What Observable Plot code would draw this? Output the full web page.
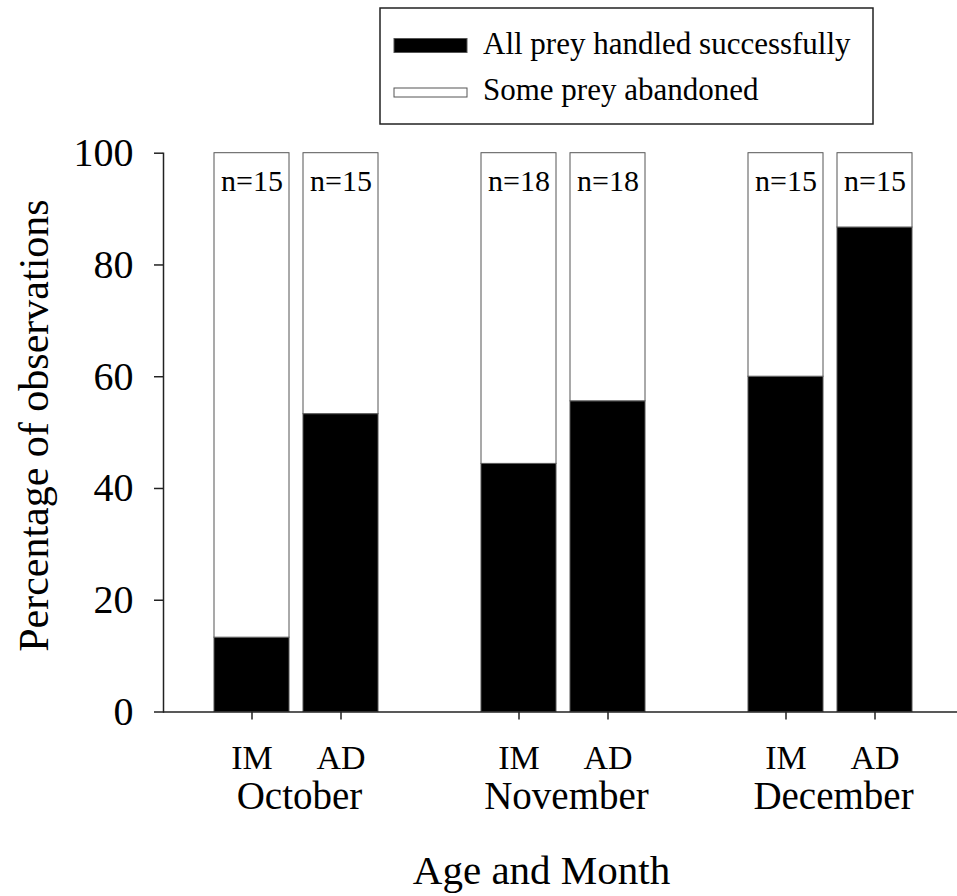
<!DOCTYPE html>
<html>
<head>
<meta charset="utf-8">
<script src="https://cdn.jsdelivr.net/npm/d3@7"></script>
<script src="https://cdn.jsdelivr.net/npm/@observablehq/plot@0.6"></script>
<style>
  html, body { margin: 0; padding: 0; background: white; }
  #wrap { position: relative; width: 957px; height: 896px; }
  #legend { position: absolute; left: 0; top: 0; }
</style>
</head>
<body>
<div id="wrap"></div>
<script>
// ---- data ----
const months = ["October", "November", "December"];
const ages = ["IM", "AD"];
const successPct = [13.3, 53.3, 44.4, 55.6, 60.0, 86.7]; // % all prey handled successfully
const sampleN = [15, 15, 18, 18, 15, 15];
const parts = ["All prey handled successfully", "Some prey abandoned"];
const partColors = ["black", "white"];
const yTicks = [0, 20, 40, 60, 80, 100];
const yLabel = "Percentage of observations";
const xLabel = "Age and Month";

const FONT = "'Liberation Serif', 'Times New Roman', serif";

const rows = months.flatMap((m, i) => ages.map((a, j) => ({
  month: m, age: a, key: m + "|" + a,
  success: successPct[i * 2 + j], n: sampleN[i * 2 + j]
})));
const keys = rows.map(d => d.key);
const domain = months.flatMap((m, i) => {
  const k = ages.map(a => m + "|" + a);
  return i < months.length - 1 ? [...k, "gap" + i] : k;
});
const long = rows.flatMap(d => [
  {key: d.key, part: parts[0], value: d.success},
  {key: d.key, part: parts[1], value: 100 - d.success}
]);
const ageOf = Object.fromEntries(rows.map(d => [d.key, d.age]));

const chart = Plot.plot({
  width: 957,
  height: 896,
  marginLeft: 163,
  marginRight: 0,
  marginTop: 152.7,
  marginBottom: 184.5,
  style: {fontFamily: FONT, fontSize: "40px", color: "black", background: "white", overflow: "visible"},
  x: {type: "band", domain, range: [163, 964], paddingInner: 0.157, paddingOuter: 0.577, align: 0.5},
  y: {domain: [0, 100]},
  color: {domain: parts, range: partColors},
  marks: [
    Plot.barY(long, {x: "key", y: "value", fill: "part", stroke: "#555", strokeWidth: 1}),
    Plot.text(rows, {x: "key", frameAnchor: "top", lineAnchor: "middle", text: d => "n=" + d.n, fontSize: 30, dy: 27.7, fill: "black"}),
    Plot.ruleY([0], {stroke: "#222", strokeWidth: 1.5}),
    Plot.frame({anchor: "left", stroke: "#222", strokeWidth: 1.5}),
    Plot.axisY({ticks: yTicks, tickSize: 9, tickPadding: 21, fontSize: 40, stroke: "#222", strokeWidth: 1.5, label: null}),
    Plot.axisX({ticks: keys, tickFormat: k => ageOf[k], tickSize: 8, tickPadding: 24.5, fontSize: 34, stroke: "#222", strokeWidth: 1.5, label: null}),
    Plot.text(months, {x: m => m + "|IM", frameAnchor: "bottom", text: d => d, dx: 47.5, dy: 68.8, lineAnchor: "top", fontSize: 39, fill: "black"}),
    Plot.text([xLabel], {frameAnchor: "bottom", text: d => d, dx: -19, dy: 142.4, lineAnchor: "top", fontSize: 41, fill: "black"}),
    Plot.text([yLabel], {frameAnchor: "left", textAnchor: "middle", lineAnchor: "middle", text: d => d, rotate: -90, dx: -129.4, dy: -7, fontSize: 42, fill: "black"})
  ]
});
document.getElementById("wrap").appendChild(chart);

// ---- legend (overlay) ----
const lg = d3.select("#wrap").append("svg")
  .attr("id", "legend").attr("width", 957).attr("height", 140)
  .style("font-family", FONT);
lg.append("rect").attr("x", 380).attr("y", 8).attr("width", 493).attr("height", 116)
  .attr("fill", "white").attr("stroke", "#222").attr("stroke-width", 1.5);
const swY = [[38.5, 14], [88, 9]];
parts.forEach((p, i) => {
  lg.append("rect").attr("x", 394).attr("y", swY[i][0]).attr("width", 73).attr("height", swY[i][1])
    .attr("fill", partColors[i]).attr("stroke", "#555").attr("stroke-width", 1);
  lg.append("text").attr("x", 483).attr("y", i === 0 ? 53.5 : 99.5)
    .attr("font-size", 31).attr("fill", "black").text(p);
});
</script>
</body>
</html>
